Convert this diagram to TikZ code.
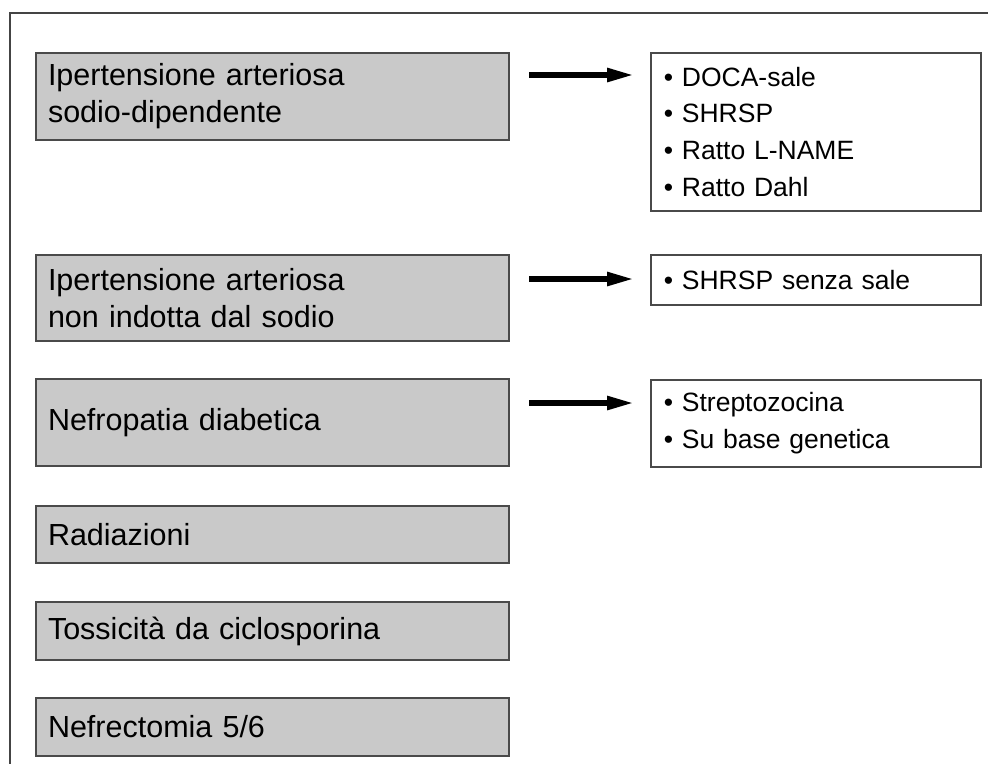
\documentclass[tikz,border=0pt]{standalone}
\usepackage{fontspec}
\setmainfont{Liberation Sans}
\usetikzlibrary{arrows.meta}
\definecolor{boxgray}{HTML}{C9C9C9}
\definecolor{boxline}{HTML}{4A4A4A}
\definecolor{frameline}{HTML}{444444}
\begin{document}
\begin{tikzpicture}[x=1pt,y=-1pt,
 graybox/.style={draw=boxline, line width=2pt, fill=boxgray, anchor=north west,
   text width=449pt, inner xsep=12pt, inner ysep=0pt, align=left,
   font=\fontsize{30.5}{37}\selectfont},
 listbox/.style={draw=boxline, line width=1.6pt, fill=white, anchor=north west,
   text width=304pt, inner xsep=13pt, inner ysep=0pt, align=left,
   font=\fontsize{26.5}{36.7}\selectfont},
 arr/.style={line width=5.5pt, -{Triangle[length=27pt,width=13pt]}}]
\useasboundingbox (0,0) rectangle (988,764);
% frame (cropped)
\coordinate (fTL) at (10,13);
\coordinate (fTR) at (988,13);
\coordinate (fBL) at (10,764);
\draw[frameline, line width=2pt] (fTR) -- (fTL) -- (fBL);

% left grey boxes
\node[graybox, minimum height=87pt] (g1) at (35,52) {Ipertensione arteriosa\\sodio-dipendente};
\node[graybox, minimum height=86pt] (g2) at (35,254) {Ipertensione arteriosa\\non indotta dal sodio};
\node[graybox, minimum height=87pt] (g3) at (35,378) {Nefropatia diabetica};
\node[graybox, minimum height=57pt] (g4) at (35,505) {Radiazioni};
\node[graybox, minimum height=58pt] (g5) at (35,601) {Tossicità da ciclosporina};
\node[graybox, minimum height=58pt] (g6) at (35,697) {Nefrectomia 5/6};

% right list boxes
\node[listbox, minimum height=158pt] (r1) at (650,52) {• DOCA-sale\\• SHRSP\\• Ratto L-NAME\\• Ratto Dahl};
\node[listbox, minimum height=50pt] (r2) at (650,254) {• SHRSP senza sale};
\node[listbox, minimum height=87pt] (r3) at (650,379) {• Streptozocina\\• Su base genetica};

% arrows
\coordinate (a1) at ([shift={(-16pt,-23pt)}]r1.north west);
\coordinate (a2) at ([shift={(-16pt,-25pt)}]r2.north west);
\coordinate (a3) at ([shift={(-16pt,-24pt)}]r3.north west);
\draw[arr] ([xshift=19pt]g1.east |- a1) -- (a1);
\draw[arr] ([xshift=19pt]g2.east |- a2) -- (a2);
\draw[arr] ([xshift=19pt]g3.east |- a3) -- (a3);
\end{tikzpicture}
\end{document}
